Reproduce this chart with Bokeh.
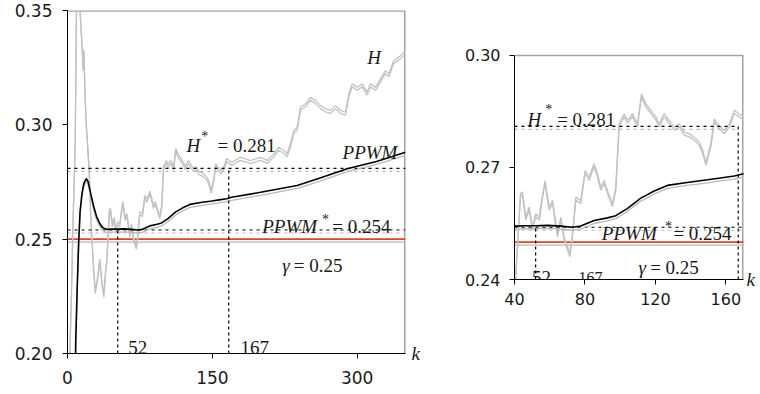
from bokeh.plotting import figure
from bokeh.models import Range1d, FixedTicker, Label, PrintfTickFormatter, LinearAxis
from bokeh.layouts import row
from bokeh.embed import file_html
from bokeh.resources import INLINE

# ---------------- data ----------------
k_H = [2, 4, 6, 8, 9.3, 11, 12.8, 14.8, 16.2, 17, 18, 19.7, 22.4, 24.2, 26.6, 28.7, 31, 33.4, 36, 37.7, 39.4,
       40.6, 43.4, 44.5, 46.4, 48.3, 50.2, 52, 54.1, 55.4, 57.3, 59.7, 61.6, 64.4, 66.3, 68.2, 71.4, 72.9,
       74.8, 77.6, 80.1, 82.3, 85.2, 87.1, 89, 90.9, 92.8, 95.6, 97.5, 99.4, 102.3, 104.1, 107, 109.8,
       112.1, 114.6, 117.4, 120.3, 122.1, 125, 127.8, 130.7, 133.5, 136.3, 139.2, 142, 144.9, 146.8,
       148.7, 151.5, 153.4, 155.3, 157.2, 159.1, 162, 164.8, 167.6, 170,
       179, 189.5, 199.9, 206.8, 213.6, 218.8, 224, 227.4, 230.9, 234.3, 237.8, 241.3, 246.5, 251.6,
       256.8, 262, 267.2, 272.3, 277.5, 282.7, 287.9, 291.3, 294.8, 300, 305.1, 310.3, 313.7, 318.9,
       324.1, 329.3, 332.7, 337.9, 343.1, 348.3, 350]
H = [0.195, 0.225, 0.262, 0.293, 0.352, 0.360, 0.352, 0.337, 0.325, 0.333, 0.315, 0.299, 0.281, 0.2595,
     0.2407, 0.2276, 0.233, 0.2413, 0.2305, 0.226, 0.236,
     0.2406, 0.2630, 0.2634, 0.2567, 0.2594, 0.2540, 0.2576, 0.2567, 0.2612, 0.2665, 0.2594, 0.2612,
     0.2522, 0.2567, 0.2513, 0.2469, 0.2522, 0.2620, 0.2612, 0.2692, 0.2674, 0.2710, 0.2683, 0.2647,
     0.2665, 0.2638, 0.2603, 0.2647, 0.2817, 0.2844, 0.2826, 0.2844, 0.2817, 0.2897, 0.2871, 0.2853,
     0.2835, 0.2817, 0.2844, 0.2826, 0.2808, 0.2817, 0.2795, 0.2790, 0.2781, 0.2768, 0.2746, 0.2714,
     0.2764, 0.2830, 0.2817, 0.2808, 0.2799, 0.2817, 0.2853, 0.2844, 0.2835,
     0.2858, 0.2844, 0.2858, 0.2844, 0.2873, 0.2902, 0.2888, 0.2873, 0.2917, 0.2975, 0.2990, 0.3077,
     0.3092, 0.3121, 0.3106, 0.3084, 0.3070, 0.3063, 0.3084, 0.3063, 0.3055, 0.3135, 0.3179, 0.3164,
     0.3179, 0.3143, 0.3179, 0.3164, 0.3201, 0.3237, 0.3223, 0.3281, 0.3296, 0.3317, 0.3320]

k_P = [8, 8.5, 10, 11.5, 13, 15, 17, 19.5, 21.5, 24, 27, 30, 33, 36, 39, 41, 46, 52, 58.7, 66.3, 72.9,
       77.6, 85.2, 92.8, 97.5, 104, 111.7, 119.3, 126.8, 138, 149.6, 157, 164.8, 170, 200, 237.8, 260,
       289.6, 320, 350]
PPWM = [0.190, 0.205, 0.228, 0.248, 0.262, 0.270, 0.2745, 0.2765, 0.275, 0.270, 0.2645, 0.260, 0.2572,
        0.2552, 0.2545, 0.2543, 0.2544, 0.2544, 0.2545, 0.2543, 0.2540, 0.2543, 0.2558, 0.2565, 0.2571,
        0.2590, 0.2618, 0.2637, 0.2652, 0.2660, 0.2667, 0.2672, 0.2677, 0.2683, 0.2705, 0.2735, 0.2765,
        0.2808, 0.2840, 0.2880]

H_STAR = 0.281
K_H_STAR = 167
PPWM_STAR = 0.254
K_PPWM_STAR = 52
GAMMA = 0.25

left_xticks = [0, 150, 300]
left_yticks = [0.20, 0.25, 0.30, 0.35]
right_xticks = [40, 80, 120, 160]
right_yticks = [0.24, 0.27, 0.30]
X_NAME = "k"

SERIF = "Liberation Serif"
INK = "#1a1a1a"
GREY = "#c2c2c2"
SHADOW = "#b8b8b8"
RED = "#e4412b"
BORDER = "#a3a3a3"

TOP = 10  # same top border for both figures, so the row does not shift them


def panel(xr, view_y, axis_y, fw, fh, bl, br, bb, xt, yt, tick_size, x_standoff, y_standoff,
          h_star_end, top_w, k_standoff):
    p = figure(x_range=Range1d(*xr), y_range=Range1d(*view_y), frame_width=fw, frame_height=fh,
               min_border_left=bl, min_border_right=br, min_border_top=TOP, min_border_bottom=bb,
               title=None, output_backend="svg", toolbar_location=None)
    d = 3 * (view_y[1] - view_y[0]) / fh
    p.extra_y_ranges = {"shadow": Range1d(view_y[0] + d, view_y[1] + d)}
    p.xgrid.visible = False
    p.ygrid.visible = False
    p.outline_line_color = None
    p.background_fill_color = "white"
    p.border_fill_color = "white"
    p.xaxis.ticker = FixedTicker(ticks=xt)
    p.yaxis.ticker = FixedTicker(ticks=yt)
    p.yaxis.formatter = PrintfTickFormatter(format="%.2f")
    p.yaxis.bounds = axis_y
    for ax in (p.xaxis, p.yaxis):
        ax.axis_line_color = "black"
        ax.axis_line_width = 1
        ax.major_tick_line_color = "black"
        ax.major_tick_out = 5
        ax.major_tick_in = 0
        ax.minor_tick_line_color = None
        ax.major_label_text_font = "DejaVu Sans"
        ax.major_label_text_font_size = tick_size
        ax.major_label_text_color = INK
    p.xaxis.major_label_standoff = x_standoff
    p.yaxis.major_label_standoff = y_standoff

    # the italic "k" at the right end of the x axis
    kax = LinearAxis(ticker=FixedTicker(ticks=[axis_y[0]]), formatter=PrintfTickFormatter(format=X_NAME),
                     axis_line_color=None, major_tick_line_color=None, minor_tick_line_color=None,
                     major_tick_in=0, major_tick_out=0, major_label_standoff=k_standoff,
                     major_label_text_font=SERIF, major_label_text_font_style="italic",
                     major_label_text_font_size="19px", major_label_text_color=INK)
    p.add_layout(kax, "right")

    x0, x1 = xr
    ya, yb = axis_y
    # top and right borders of the plot area
    p.line([x0, x1], [yb, yb], line_color=BORDER, line_width=top_w)
    p.line([x1, x1], [ya, yb], line_color=BORDER, line_width=3)
    # gamma
    p.line([x0, x1], [GAMMA, GAMMA], y_range_name="shadow", line_color=SHADOW, line_width=1.3)
    p.line([x0, x1], [GAMMA, GAMMA], line_color=RED, line_width=1.6)
    # H curve (double grey line)
    p.line(k_H, H, y_range_name="shadow", line_color=GREY, line_width=1.3)
    p.line(k_H, H, line_color=GREY, line_width=1.3)
    # reference levels
    p.line([x0, h_star_end], [H_STAR, H_STAR], y_range_name="shadow", line_color=SHADOW,
           line_width=1.2, line_dash="3 4")
    p.line([x0, h_star_end], [H_STAR, H_STAR], line_color="black", line_width=1.2, line_dash="3 4")
    p.line([x0, x1], [PPWM_STAR, PPWM_STAR], y_range_name="shadow", line_color=SHADOW,
           line_width=1.2, line_dash="3 4")
    p.line([x0, x1], [PPWM_STAR, PPWM_STAR], line_color="black", line_width=1.2, line_dash="3 4")
    # PPWM curve
    p.line(k_P, PPWM, y_range_name="shadow", line_color=SHADOW, line_width=1.3)
    p.line(k_P, PPWM, line_color="black", line_width=1.6)
    # drop lines
    p.segment(x0=[K_PPWM_STAR, K_H_STAR], y0=[ya, ya], x1=[K_PPWM_STAR, K_H_STAR],
              y1=[PPWM_STAR, H_STAR], line_color="black", line_width=1.2, line_dash="3 3")
    return p


def lab(p, x, y, text, size="19px", italic=False):
    p.add_layout(Label(x=x, y=y, text=text, text_font=SERIF, text_font_size=size,
                       text_font_style="italic" if italic else "normal", text_color=INK,
                       text_baseline="alphabetic", text_align="left"))


# left panel: 0..350 x 0.20..0.35, frame 67..405 x 10..353
left = panel((0, 350), (0.20, 0.35), (0.20, 0.35), 338, 343, 67, 17, 41, left_xticks, left_yticks,
             "17px", 12, 10, 350, 2.6, 6)
lab(left, 123.2, 0.2909, "H", italic=True)
lab(left, 138.5, 0.2949, "*", size="14px")
lab(left, 155.3, 0.2909, "= 0.281")
lab(left, 284.8, 0.2877, "PPWM", italic=True)
lab(left, 201.6, 0.2557, "PPWM", italic=True)
lab(left, 263.5, 0.2588, "*", size="14px")
lab(left, 274.1, 0.2557, "= 0.254")
lab(left, 222.3, 0.2385, "γ", italic=True)
lab(left, 234.4, 0.2385, "= 0.25")
lab(left, 62.8, 0.2028, "52")
lab(left, 179.1, 0.2028, "167")
lab(left, 310.3, 0.3293, "H", italic=True)

# right panel: 40..170 x 0.24..0.30, frame 514..743 x 55..279 (view extended up to the shared top)
right = panel((40, 170), (0.24, 0.31205), (0.24, 0.30), 229, 269, 92, 17, 40, right_xticks,
              right_yticks, "16px", 8, 9, K_H_STAR, 1.3, 3)
lab(right, 47.4, 0.2829, "H", italic=True)
lab(right, 57.5, 0.2855, "*", size="14px")
lab(right, 64.2, 0.2829, "= 0.281")
lab(right, 89.6, 0.2522, "PPWM", italic=True)
lab(right, 125.5, 0.2542, "*", size="14px")
lab(right, 130.2, 0.2522, "= 0.254")
lab(right, 110.4, 0.2431, "γ", italic=True)
lab(right, 117.0, 0.2431, "= 0.25")
lab(right, 50.0, 0.2406, "52")
lab(right, 76.4, 0.2406, "167", size="16px")

page = row(left, right)
open("out.html", "w").write(file_html(page, INLINE))
